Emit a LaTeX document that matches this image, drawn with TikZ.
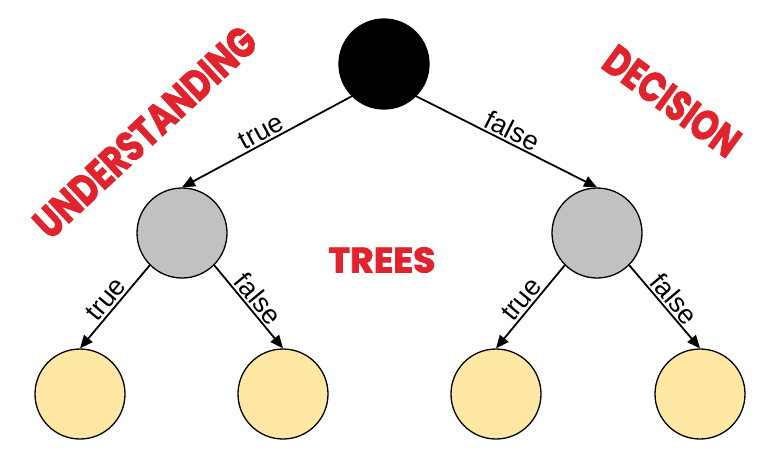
\documentclass[tikz,border=0pt]{standalone}
\usepackage{fontspec}
\usepackage{graphicx}
\setmainfont{Liberation Sans}
\newfontfamily\titlefont{Poppins}[BoldFeatures={FakeBold=2.5}]
\usetikzlibrary{arrows.meta}
\definecolor{titlered}{RGB}{224,35,45}
\definecolor{nodegray}{RGB}{194,193,194}
\definecolor{leafyellow}{RGB}{254,232,164}
\begin{document}
\begin{tikzpicture}[x=1pt,y=-1pt,
  treenode/.style={circle,draw=black,line width=1.3pt,minimum size=90pt,inner sep=0pt},
  rootnode/.style={treenode,fill=black},
  innernode/.style={treenode,fill=nodegray},
  leafnode/.style={treenode,fill=leafyellow},
  edge/.style={line width=1.8pt,-{Triangle[length=13pt,width=11pt]}},
  lbl/.style={font=\fontsize{27}{29}\selectfont,sloped,above,inner sep=2pt},
  title/.style={inner sep=0pt,text=titlered}]
\useasboundingbox (0,0) rectangle (778,467);
\node[rootnode] (root) at (384,64) {};
\node[innernode] (l) at (182,233) {};
\node[innernode] (r) at (597,233) {};
\node[leafnode] (ll) at (80,394) {};
\node[leafnode] (lr) at (283,394) {};
\node[leafnode] (rl) at (496,394) {};
\node[leafnode] (rr) at (700,394) {};
\draw[edge] (root.south west) -- node[lbl] {true} (l.north);
\draw[edge] (root.south east) -- node[lbl] {false} (r.north);
\draw[edge] (l.south west) -- node[lbl] {true} (ll.north);
\draw[edge] (l.south east) -- node[lbl] {false} (lr.north);
\draw[edge] (r.south west) -- node[lbl] {true} (rl.north);
\draw[edge] (r.south east) -- node[lbl] {false} (rr.north);
\node[title,rotate=43] (t1) at (145,132) {\resizebox{287pt}{30pt}{\titlefont\bfseries UNDERSTANDING}};
\node[title,rotate=-36] (t2) at (672,101) {\resizebox{157pt}{30pt}{\titlefont\bfseries DECISION}};
\node[title] (t3) at (382,260) {\resizebox{107pt}{25pt}{\titlefont\bfseries TREES}};
\end{tikzpicture}
\end{document}
